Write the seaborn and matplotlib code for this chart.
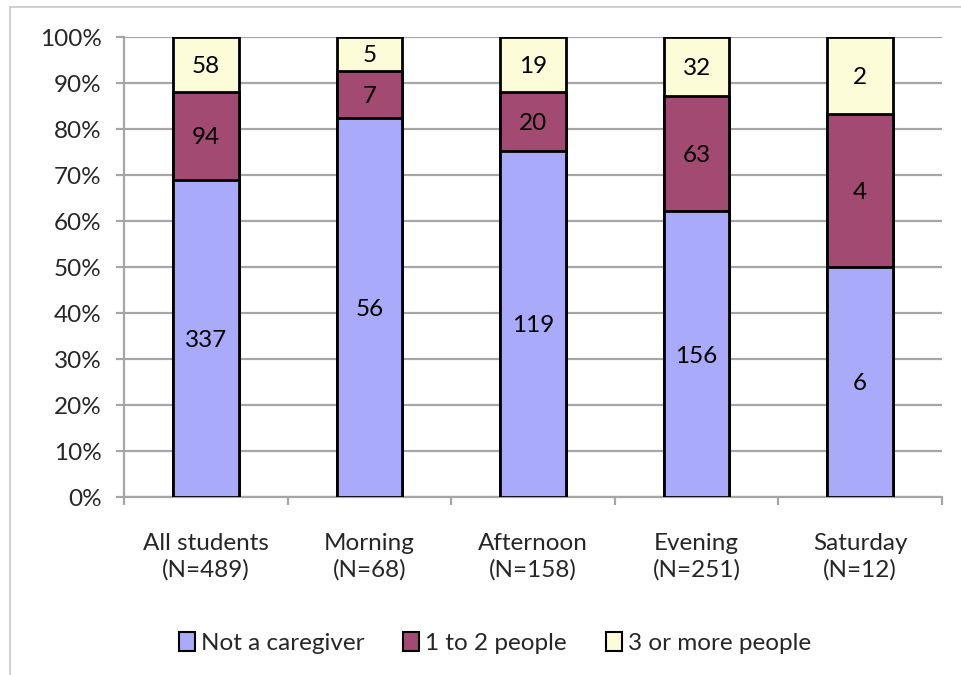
import matplotlib
matplotlib.use("Agg")
import matplotlib.pyplot as plt
import seaborn as sns
import numpy as np
import pandas as pd
from matplotlib.patches import Patch
from matplotlib.lines import Line2D

categories = ["All students\n(N=489)", "Morning\n(N=68)", "Afternoon\n(N=158)",
              "Evening\n(N=251)", "Saturday\n(N=12)"]
series_names = ["Not a caregiver", "1 to 2 people", "3 or more people"]
not_caregiver = [337, 56, 119, 156, 6]
one_to_two = [94, 7, 20, 63, 4]
three_plus = [58, 5, 19, 32, 2]
y_ticks = [0, 10, 20, 30, 40, 50, 60, 70, 80, 90, 100]
colors = ["#AAAAFA", "#A34A73", "#FCFCD8"]

sns.set_theme(style="white")
plt.rcParams['font.family'] = ['Lato', 'DejaVu Sans']

FS = 17.5

counts = np.array([not_caregiver, one_to_two, three_plus], dtype=float)
totals = counts.sum(axis=0)
pct = counts / totals * 100
cum = np.cumsum(pct, axis=0)

fig = plt.figure(figsize=(9.61, 6.75), dpi=100)
ax = fig.add_axes([124/961, 1-497/675, (942-124)/961, (497-37)/675])

grid_c = "#A6A6A6"
for yv in y_ticks:
    ax.axhline(yv, color=grid_c, lw=1.6, zorder=0)

# draw from top segment down so overlapping edges form segment borders
for i in [2, 1, 0]:
    df = pd.DataFrame({"cat": categories, "val": cum[i]})
    sns.barplot(data=df, x="cat", y="val", color=colors[i], saturation=1,
                width=0.4, edgecolor="black", linewidth=2, ax=ax, zorder=2)

for j in range(len(categories)):
    lo = 0
    for i in range(3):
        hi = cum[i][j]
        ax.text(j, (lo + hi) / 2, f"{int(counts[i][j])}", ha="center", va="center_baseline",
                fontsize=FS, color="black", zorder=5)
        lo = hi

ax.set_xlim(-0.5, 4.5)
ax.set_ylim(0, 100)
ax.set_yticks(y_ticks)
ax.set_yticklabels([f"{v}%" for v in y_ticks], fontsize=FS)
ax.set_xticks(range(len(categories)))
ax.set_xticklabels(categories, fontsize=FS, linespacing=1.3)
ax.set_xticks(np.arange(-0.5, 5.0, 1.0), minor=True)
ax.tick_params(axis="x", which="major", length=0, pad=26)
ax.tick_params(axis="x", which="minor", length=6, width=1.6, color=grid_c, direction="out", bottom=True)
ax.tick_params(axis="y", which="major", length=6, width=1.6, color=grid_c, direction="out", left=True, pad=10)
ax.set_xlabel("")
ax.set_ylabel("")
for s in ["top", "right"]:
    ax.spines[s].set_visible(False)
for s in ["left", "bottom"]:
    ax.spines[s].set_color(grid_c)
    ax.spines[s].set_linewidth(1.6)
    ax.spines[s].set_zorder(1)

handles = [Patch(facecolor=colors[i], edgecolor="black", linewidth=1.5) for i in range(3)]
fig.legend(handles, series_names, loc="center", bbox_to_anchor=(0.515, 1-643/675), ncol=3,
           frameon=False, fontsize=FS, handlelength=0.65, handleheight=0.85,
           handletextpad=0.25, columnspacing=1.6)

# outer chart border (left and top visible)
fig.add_artist(Line2D([10/961, 10/961], [0, 1-7/675], transform=fig.transFigure,
                      color="#C8C8C8", lw=1.2))
fig.add_artist(Line2D([10/961, 1], [1-7/675, 1-7/675], transform=fig.transFigure,
                      color="#C8C8C8", lw=1.2))

fig.savefig("out.png", dpi=100)
